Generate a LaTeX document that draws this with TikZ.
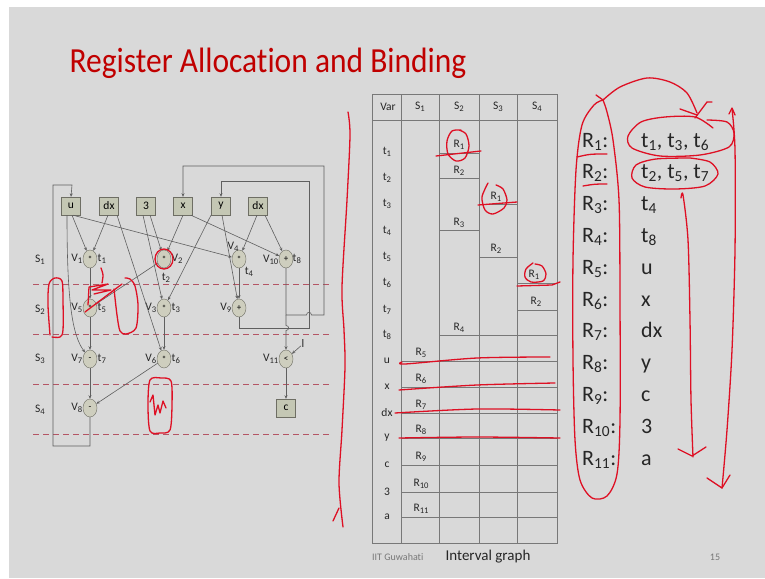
\documentclass[tikz,border=0pt]{standalone}
\usepackage{fontspec}
\setmainfont{Carlito}[Ligatures=NoCommon]
\usetikzlibrary{arrows.meta,shapes.geometric}

\definecolor{slidegray}{RGB}{217,217,217}
\definecolor{titlered}{RGB}{192,0,0}
\definecolor{inkred}{RGB}{222,16,36}
\definecolor{wirecol}{RGB}{95,95,95}
\definecolor{boxline}{RGB}{110,110,100}
\definecolor{boxfill}{RGB}{196,199,180}
\definecolor{opfill}{RGB}{206,206,190}
\definecolor{stepred}{RGB}{180,85,100}
\definecolor{tblline}{RGB}{120,120,120}
\definecolor{footgray}{RGB}{120,120,120}

% small lowered digit used in V1, S1, R1 style labels
\newcommand\dg[1]{\raisebox{-0.3ex}{\scalebox{0.75}{#1}}}
\newcommand\gfont{\fontsize{11.5}{11.5}\selectfont}
\newcommand\listfont{\fontsize{22}{22}\selectfont}

\begin{document}
\begin{tikzpicture}[x=1pt,y=-1pt,
  varbox/.style={draw=boxline, fill=boxfill, minimum width=19pt, minimum height=18pt, inner sep=0pt, font=\gfont},
  opnode/.style={ellipse, draw=boxline, fill=opfill, minimum width=14pt, minimum height=18pt, inner sep=0pt, font=\fontsize{9}{9}\selectfont},
  flow/.style={draw=wirecol, line width=0.6pt, -{Stealth[length=3.5pt,width=3pt]}},
  wire/.style={draw=wirecol, line width=0.6pt},
  stepline/.style={draw=stepred, line width=1pt, dash pattern=on 6pt off 4pt},
  tbl/.style={draw=tblline, line width=0.8pt},
  ink/.style={draw=inkred, line width=1.3pt, line cap=round, line join=round},
  lbl/.style={font=\gfont, inner sep=0.5pt, text=black!85},
  tlbl/.style={font=\fontsize{11.5}{11.5}\selectfont, inner sep=0pt, text=black!85},
  listtxt/.style={font=\listfont, inner sep=0pt, anchor=base west, text=black!85}]

\useasboundingbox (0,0) rectangle (765,578);
\fill[white] (0,0) rectangle (765,578);
\fill[slidegray] (9,7) rectangle (765,578);

% title
\node[text=titlered, font=\fontsize{31.5}{31.5}\selectfont, inner sep=0pt, yscale=1.12, transform shape] (title) at (268,63) {Register Allocation and Binding};

% ---------------- scheduled data-flow graph ----------------
% step separators
\foreach \yy in {284,334,384,434} \draw[stepline] (33,\yy) -- (330,\yy);
\node[lbl] (s1) at (40,260) {S\dg{1}};
\node[lbl] (s2) at (40,310) {S\dg{2}};
\node[lbl] (s3) at (40,359) {S\dg{3}};
\node[lbl] (s4) at (40,410) {S\dg{4}};

% input variables
\node[varbox] (u)    at (71,206)  {u};
\node[varbox] (dxa)  at (109,206) {dx};
\node[varbox] (three) at (146,206) {3};
\node[varbox] (xv)   at (183,206) {x};
\node[varbox] (yv)   at (221,206) {y};
\node[varbox] (dxb)  at (258,206) {dx};

% operations
\node[opnode] (v1)  at (90,259)  {*};
\node[opnode] (v2)  at (164,259) {*};
\node[opnode] (v4)  at (239,259) {*};
\node[opnode] (v10) at (286,259) {+};
\node[opnode] (v5)  at (90,308)  {*};
\node[opnode] (v3)  at (164,308) {*};
\node[opnode] (v9)  at (239,308) {+};
\node[opnode] (v7)  at (90,359)  {-};
\node[opnode] (v6)  at (164,359) {*};
\node[opnode] (v11) at (286,359) {<};
\node[opnode] (v8)  at (90,408)  {-};
\node[varbox] (cv)  at (286,408) {c};

% operation and value names
\node[lbl, anchor=east] (n1) at (83,259) {V\dg{1}};
\node[lbl, anchor=west] (r1) at (97,259) {t\dg{1}};
\node[lbl, anchor=west] (n2) at (171,259) {V\dg{2}};
\node[lbl] (r2) at (166,278) {t\dg{2}};
\node[lbl] (n4) at (233,247) {V\dg{4}};
\node[lbl] (r4) at (249,272) {t\dg{4}};
\node[lbl, anchor=east] (n10) at (279,260) {V\dg{10}};
\node[lbl, anchor=west] (r8) at (292,259) {t\dg{8}};
\node[lbl, anchor=east] (n5) at (83,308) {V\dg{5}};
\node[lbl, anchor=west] (r5) at (97,308) {t\dg{5}};
\node[lbl, anchor=east] (n3) at (157,308) {V\dg{3}};
\node[lbl, anchor=west] (r3) at (171,308) {t\dg{3}};
\node[lbl, anchor=east] (n9) at (232,308) {V\dg{9}};
\node[lbl, anchor=east] (n7) at (83,359) {V\dg{7}};
\node[lbl, anchor=west] (r7) at (97,359) {t\dg{7}};
\node[lbl, anchor=east] (n6) at (157,359) {V\dg{6}};
\node[lbl, anchor=west] (r6) at (171,359) {t\dg{6}};
\node[lbl, anchor=east] (n11) at (279,359) {V\dg{11}};
\node[lbl, anchor=east] (n8) at (83,408) {V\dg{8}};
\node[lbl] (lim) at (303,344) {l};

% data edges
\draw[flow] ([xshift=1pt]u.south) -- (v1);
\draw[flow] ([xshift=-1pt]dxa.south) -- (v1);
\draw[flow] ([xshift=2pt]u.south) -- (v4);
\draw[flow] ([xshift=-4pt]u.south) .. controls (67,300) and (72,335) .. (v7);
\draw[flow] ([xshift=8pt]dxa.south) -- (v6);
\draw[flow] ([xshift=4pt]three.south) -- (v2);
\draw[flow] ([xshift=-3pt]three.south) -- (v3);
\draw[flow] (xv.south) -- (v2);
\draw[flow] ([xshift=8pt]xv.south) -- (v10);
\draw[flow] ([xshift=-10pt]yv.south) -- (v3);
\draw[flow] ([xshift=1pt]yv.south) -- (v9);
\draw[flow] ([xshift=-1pt]dxb.south) -- (v4);
\draw[flow] ([xshift=7pt]dxb.south) -- (v10);
\draw[flow] (v1) -- (v5);
\draw[flow] (v2) -- (v5);
\draw[flow] (v3) -- (v6);
\draw[flow] (v4) -- (v9);
\draw[flow] (v5) -- (v7);
\draw[flow] (v7) -- (v8);
\draw[flow] (v6) -- (v8);
\draw[flow] (v11) -- (cv);
\draw[flow] (lim) -- (v11);

% loop-back edges
\draw[flow] (v8.south) -- (90,446) -- (53,446) -- (53,185) -- (72,185) -- (u.north);
\draw[flow] (v9.south) -- (239,328) -- (309,328) -- (309,181) -- (221,181) -- (yv.north);
\draw[flow] (v10.south) -- (286,315) -- (306.5,315) .. controls (306.5,311.5) and (311.5,311.5) .. (311.5,315)
   -- (324,315) -- (324,166) -- (183,166) -- (xv.north);
\draw[flow] (286,315) -- (286,325.5) .. controls (289.5,325.5) and (289.5,330.5) .. (286,330.5) -- (v11);

% ---------------- interval table ----------------
\draw[tbl] (372,94) rectangle (557,543);
\draw[tbl] (372,120) -- (557,120);
\foreach \xx in {401,439,479,517} \draw[tbl] (\xx,94) -- (\xx,543);
\node[tlbl] (hvar) at (388,107) {Var};
\node[tlbl] (hs1) at (420,107) {S\dg{1}};
\node[tlbl] (hs2) at (459,107) {S\dg{2}};
\node[tlbl] (hs3) at (498,107) {S\dg{3}};
\node[tlbl] (hs4) at (537,107) {S\dg{4}};

\foreach \nm/\yy in {{t\dg{1}}/152,{t\dg{2}}/178,{t\dg{3}}/204,{t\dg{4}}/231,{t\dg{5}}/257,{t\dg{6}}/283,{t\dg{7}}/310,{t\dg{8}}/335,u/361,x/387,dx/413,y/438,c/465,3/492,a/517}
  \node[tlbl] at (387,\yy) {\nm};

% register segments
\draw[tbl] (439,153) -- (479,153);  \node[tlbl] (sa) at (459,145) {R\dg{1}};
\draw[tbl] (439,178) -- (479,178);  \node[tlbl] (sb) at (459,171) {R\dg{2}};
\draw[tbl] (439,230) -- (479,230);  \node[tlbl] (sc) at (459,223) {R\dg{3}};
\draw[tbl] (439,335) -- (557,335);  \node[tlbl] (sd) at (459,328) {R\dg{4}};
\draw[tbl] (479,204) -- (517,204);  \node[tlbl] (se) at (496,197) {R\dg{1}};
\draw[tbl] (479,257) -- (517,257);  \node[tlbl] (sf) at (496,249) {R\dg{2}};
\draw[tbl] (517,283) -- (557,283);  \node[tlbl] (sg) at (534,275) {R\dg{1}};
\draw[tbl] (517,310) -- (557,310);  \node[tlbl] (sh) at (536,302) {R\dg{2}};
\foreach \rn/\yy in {5/361,6/387,7/413,8/438,9/465,10/492,11/517} {
  \draw[tbl] (401,\yy) -- (557,\yy);
  \node[tlbl] at (421,\yy-8) {R\dg{\rn}};
}

% footer
\node[font=\fontsize{10}{10}\selectfont, text=footgray, anchor=west, inner sep=0pt] (inst) at (372,557) {IIT Guwahati};
\node[font=\fontsize{15}{15}\selectfont, text=black!85, inner sep=0pt] (cap) at (488,557) {Interval graph};
\node[font=\fontsize{10}{10}\selectfont, text=footgray, inner sep=0pt] (pg) at (715,557) {15};

% ---------------- register binding list ----------------
\foreach \i/\val [count=\k from 0] in {1/{t\textsubscript{1}, t\textsubscript{3}, t\textsubscript{6}},
   2/{t\textsubscript{2}, t\textsubscript{5}, t\textsubscript{7}},
   3/{t\textsubscript{4}}, 4/{t\textsubscript{8}}, 5/u, 6/x, 7/dx, 8/y, 9/c, 10/3, 11/a} {
  \node[listtxt] at (582,147+31.8*\k) {R\textsubscript{\i}:};
  \node[listtxt] at (641,147+31.8*\k) {\val};
}

% ---------------- pen annotations ----------------
% graph scribbles
\draw[ink] (164,259) ellipse [x radius=9pt, y radius=10pt];
\draw[ink] plot[smooth] coordinates {(50,335) (48,305) (49,284) (55,278) (62,281) (63,300) (63,330) (60,337) (52,337)};
\draw[ink] plot[smooth] coordinates {(114,289) (117,315) (120,331) (126,334) (136,328) (138,305) (135,286) (130,279) (125,278)};
\draw[ink] (85,312) -- (122,284);
\draw[ink] (88,305) -- (89,287) -- (108,284) -- (92,290) -- (111,290) -- (94,294);
\draw[ink] plot[smooth] coordinates {(101,268) (103,275) (102,283)};
\draw[ink] plot[smooth cycle] coordinates {(150,380) (161,378) (171,381) (172,405) (170,430) (160,433) (150,431) (148,405)};
\draw[ink] (150,402) -- (153,395) -- (155,415) -- (158,405) -- (160,413) -- (163,401) -- (166,408);

% long stroke between graph and table
\draw[ink] plot[smooth] coordinates {(348,112) (350,135) (347,200) (342,287) (344,330) (345,367) (342,430) (339,483) (343,527)};
\draw[ink] (333,521) -- (339,508);

% table marks
\draw[ink] plot[smooth] coordinates {(461,130) (452,131) (447,141) (448,154) (456,161) (465,158) (469,146) (466,134) (459,130)};
\draw[ink] (436,156) -- (481,151);
\draw[ink] plot[smooth] coordinates {(488,183) (482,197) (485,210) (493,214) (504,208) (507,200) (503,189) (496,185)};
\draw[ink] (478,205) -- (517,202);
\draw[ink] plot[smooth] coordinates {(533,263) (526,269) (525,277) (531,282) (543,281) (546,274) (542,266) (535,264)};
\draw[ink] (517,286) -- (552,285) -- (560,282);
\draw[ink] plot[smooth] coordinates {(402,362) (405,364) (477,358) (550,357)};
\draw[ink] plot[smooth] coordinates {(399,390) (477,385) (555,383)};
\draw[ink] plot[smooth] coordinates {(395,413) (477,409) (560,410)};
\draw[ink] plot[smooth] coordinates {(399,438) (477,437) (560,438)};

% list marks
\draw[ink] plot[smooth] coordinates {(603,100) (594,105) (582,125) (576,170) (573,260) (573,360) (575,440) (580,480) (592,498) (607,496) (617,474) (620,420) (620,300) (619,200) (613,140) (607,112) (603,100)};
\draw[ink] (596,95) -- (603,100);
\draw[ink] plot[smooth] coordinates {(603,100) (620,87) (647,78) (670,82) (687,93) (697,113)};
\draw[ink] (680,109) -- (697,115);
\draw[ink] (695,118) -- (707,102) -- (712,102);
\draw[ink] plot[smooth] coordinates {(707,120) (727,122) (734,133) (729,147) (700,155) (660,156) (632,148) (628,136) (641,122) (665,117) (695,117) (713,128)};
\draw[ink] plot[smooth] coordinates {(690,158) (710,162) (718,174) (705,186) (675,189) (645,187) (632,178) (636,165) (656,159) (690,158)};
\draw[ink] (577,157) .. controls (590,154) .. (607,154);
\draw[ink] (583,186) .. controls (595,184) .. (607,184);
\draw[ink] plot[smooth] coordinates {(681,198) (683,195) (688,240) (690,320) (691,400) (693,457)};
\draw[ink] (678,449) -- (692,456) -- (706,447);
\draw[ink] plot[smooth] coordinates {(732,109) (735,150) (735,250) (732,350) (727,430) (722,488)};
\draw[ink] (729,114) -- (732,108) -- (735,115);
\draw[ink] (707,478) -- (722,488) -- (730,475);

\end{tikzpicture}
\end{document}
